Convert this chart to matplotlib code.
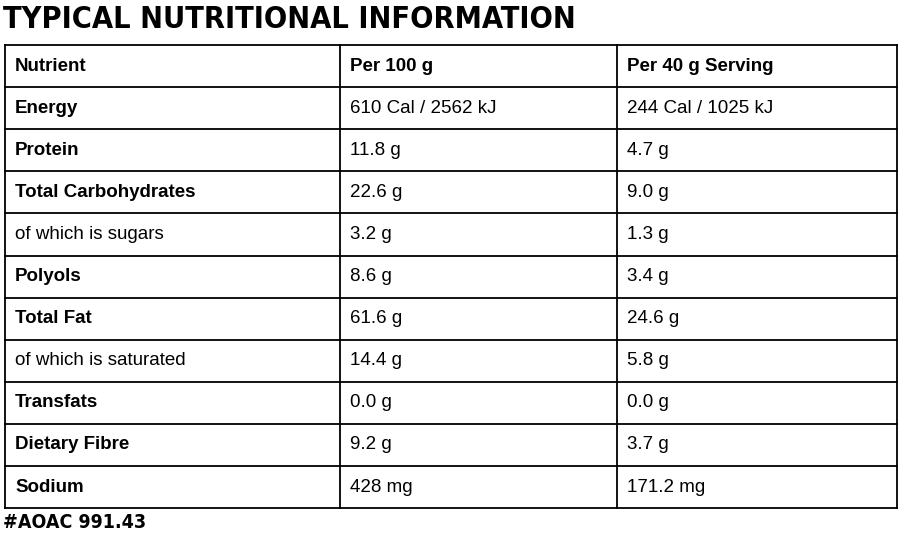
import matplotlib
matplotlib.use("Agg")
import matplotlib.pyplot as plt

header = ["Nutrient", "Per 100 g", "Per 40 g Serving"]
nutrients = ["Energy", "Protein", "Total Carbohydrates", "of which is sugars", "Polyols",
             "Total Fat", "of which is saturated", "Transfats", "Dietary Fibre", "Sodium"]
per_100g = ["610 Cal / 2562 kJ", "11.8 g", "22.6 g", "3.2 g", "8.6 g",
            "61.6 g", "14.4 g", "0.0 g", "9.2 g", "428 mg"]
per_40g = ["244 Cal / 1025 kJ", "4.7 g", "9.0 g", "1.3 g", "3.4 g",
           "24.6 g", "5.8 g", "0.0 g", "3.7 g", "171.2 mg"]
sub_rows = ["of which is sugars", "of which is saturated"]

fig = plt.figure(figsize=(9, 5.42), dpi=100)
ax = fig.add_axes([0, 0, 1, 1])
ax.set_xlim(0, 900)
ax.set_ylim(542, 0)
ax.axis("off")

cols = [5, 340, 617, 897]
top, row_h = 45, 42.1
nrows = len(nutrients) + 1
bottom = top + nrows * row_h

for x in cols:
    ax.plot([x, x], [top, bottom], color="black", lw=1.3)
for i in range(nrows + 1):
    y = top + i * row_h
    ax.plot([cols[0], cols[-1]], [y, y], color="black", lw=1.3)

font = "Liberation Sans"
fs = 13.5
for j, h in enumerate(header):
    ax.text(cols[j] + 10, top + row_h / 2, h, va="center", ha="left",
            fontsize=fs, fontweight="bold", family=font)
for i, name in enumerate(nutrients):
    y = top + (i + 1.5) * row_h
    ax.text(cols[0] + 10, y, name, va="center", fontsize=fs, family=font,
            fontweight="normal" if name in sub_rows else "bold")
    ax.text(cols[1] + 10, y, per_100g[i], va="center", fontsize=fs, family=font)
    ax.text(cols[2] + 10, y, per_40g[i], va="center", fontsize=fs, family=font)

ax.text(3, 20, "TYPICAL NUTRITIONAL INFORMATION", va="center", ha="left",
        fontsize=22, fontweight="bold", fontstretch="condensed", family="DejaVu Sans")
ax.text(3, 523, "#AOAC 991.43", va="center", ha="left",
        fontsize=14, fontweight="bold", fontstretch="condensed", family="DejaVu Sans")

fig.savefig("out.png", dpi=100)
